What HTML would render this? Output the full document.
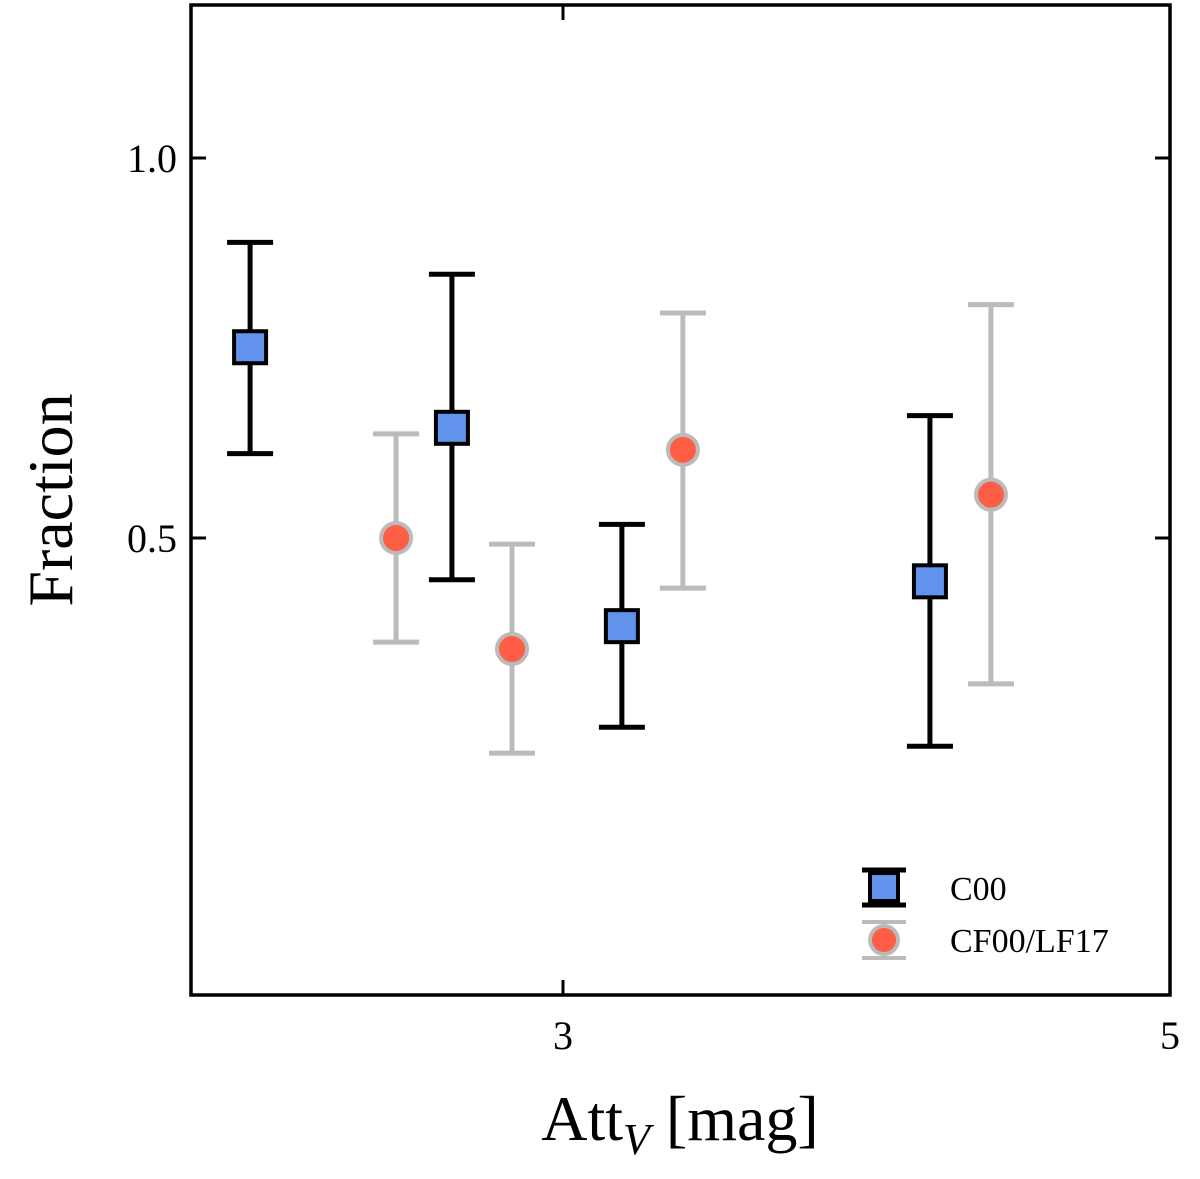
<!DOCTYPE html>
<html><head><meta charset="utf-8"><style>
html,body{margin:0;padding:0;background:#fff;}
svg text{font-family:"Liberation Serif",serif;fill:#000;}
</style></head><body>
<svg id="chart" width="1200" height="1174" xmlns="http://www.w3.org/2000/svg">
<g id="plot"></g>
</svg>
<script>
const c00X=[1.969,2.634,3.194,4.209];
const c00Y=[0.751,0.645,0.384,0.443];
const c00Lo=[0.611,0.445,0.251,0.226];
const c00Hi=[0.889,0.847,0.518,0.661];
const cfX=[2.450,2.832,3.395,4.410];
const cfY=[0.500,0.354,0.616,0.557];
const cfLo=[0.363,0.217,0.434,0.308];
const cfHi=[0.637,0.492,0.796,0.807];
const xTicks=[3,5];
const xTickLabels=["3","5"];
const yTicks=[0.5,1.0];
const yTickLabels=["0.5","1.0"];

const L=191,R=1170,T=5,B=995;
const sx=v=>563+(v-3)*303.5;
const sy=v=>158+(1-v)*760;
const NS="http://www.w3.org/2000/svg";
const g=document.getElementById('plot');
function mk(tag,attrs,parent){const e=document.createElementNS(NS,tag);for(const k in attrs)e.setAttribute(k,attrs[k]);(parent||g).appendChild(e);return e;}

function errbar(x,lo,hi,col,name){
  const eg=mk('g',{});
  
  
  mk('line',{x1:sx(x),x2:sx(x),y1:sy(lo),y2:sy(hi),stroke:col,'stroke-width':5},eg);
  mk('line',{x1:sx(x)-23,x2:sx(x)+23,y1:sy(lo),y2:sy(lo),stroke:col,'stroke-width':5},eg);
  mk('line',{x1:sx(x)-23,x2:sx(x)+23,y1:sy(hi),y2:sy(hi),stroke:col,'stroke-width':5},eg);
}
for(let i=0;i<cfX.length;i++){
  errbar(cfX[i],cfLo[i],cfHi[i],'#bbbbbb','cf00-errorbar');
  const c=mk('circle',{cx:sx(cfX[i]),cy:sy(cfY[i]),r:15,fill:'#fe5e45',stroke:'#bbbbbb','stroke-width':4});
  
  
}
for(let i=0;i<c00X.length;i++){
  errbar(c00X[i],c00Lo[i],c00Hi[i],'#000','c00-errorbar');
  const s=mk('rect',{x:sx(c00X[i])-16,y:sy(c00Y[i])-16,width:32,height:32,fill:'#6193ec',stroke:'#000','stroke-width':4});
  
  
}
// frame
const fr=mk('rect',{x:L,y:T,width:R-L,height:B-T,fill:'none',stroke:'#000','stroke-width':3.5});


xTicks.forEach((t,i)=>{
  mk('line',{x1:sx(t),x2:sx(t),y1:B,y2:B-15,stroke:'#000','stroke-width':3});
  mk('line',{x1:sx(t),x2:sx(t),y1:T,y2:T+15,stroke:'#000','stroke-width':3});
  const tx=mk('text',{x:sx(t),y:B+54,'font-size':40,'text-anchor':'middle'});
  tx.textContent=xTickLabels[i];
  
  
});
yTicks.forEach((t,i)=>{
  mk('line',{x1:L,x2:L+15,y1:sy(t),y2:sy(t),stroke:'#000','stroke-width':3});
  mk('line',{x1:R,x2:R-15,y1:sy(t),y2:sy(t),stroke:'#000','stroke-width':3});
  const tx=mk('text',{x:L-14,y:sy(t)+14,'font-size':40,'text-anchor':'end'});
  tx.textContent=yTickLabels[i];
  
  
});
// axis titles
const xt=mk('text',{x:680,y:1140,'font-size':64,'text-anchor':'middle'});


xt.innerHTML='Att<tspan font-size="44" font-style="italic" dy="14">V</tspan><tspan dy="-14"> [mag]</tspan>';
const yt=mk('text',{x:0,y:0,'font-size':64,'text-anchor':'middle',transform:'translate(72,500) rotate(-90)'});
yt.textContent='Fraction';


// legend
const lg=mk('g',{});


const e1=mk('g',{},lg);


mk('line',{x1:884,x2:884,y1:870,y2:905,stroke:'#000','stroke-width':5},e1);
mk('line',{x1:862,x2:906,y1:870,y2:870,stroke:'#000','stroke-width':5},e1);
mk('line',{x1:862,x2:906,y1:905,y2:905,stroke:'#000','stroke-width':5},e1);
mk('rect',{x:870,y:873,width:28,height:28,fill:'#6193ec',stroke:'#000','stroke-width':4},e1);
const t1=mk('text',{x:950,y:900,'font-size':34},e1);t1.textContent='C00';
const e2=mk('g',{},lg);


mk('line',{x1:862,x2:906,y1:922,y2:922,stroke:'#bbbbbb','stroke-width':4},e2);
mk('line',{x1:862,x2:906,y1:958,y2:958,stroke:'#bbbbbb','stroke-width':4},e2);
mk('circle',{cx:884,cy:940,r:14,fill:'#fe5e45',stroke:'#bbbbbb','stroke-width':4},e2);
const t2=mk('text',{x:950,y:952,'font-size':34},e2);t2.textContent='CF00/LF17';
</script>
</body></html>
